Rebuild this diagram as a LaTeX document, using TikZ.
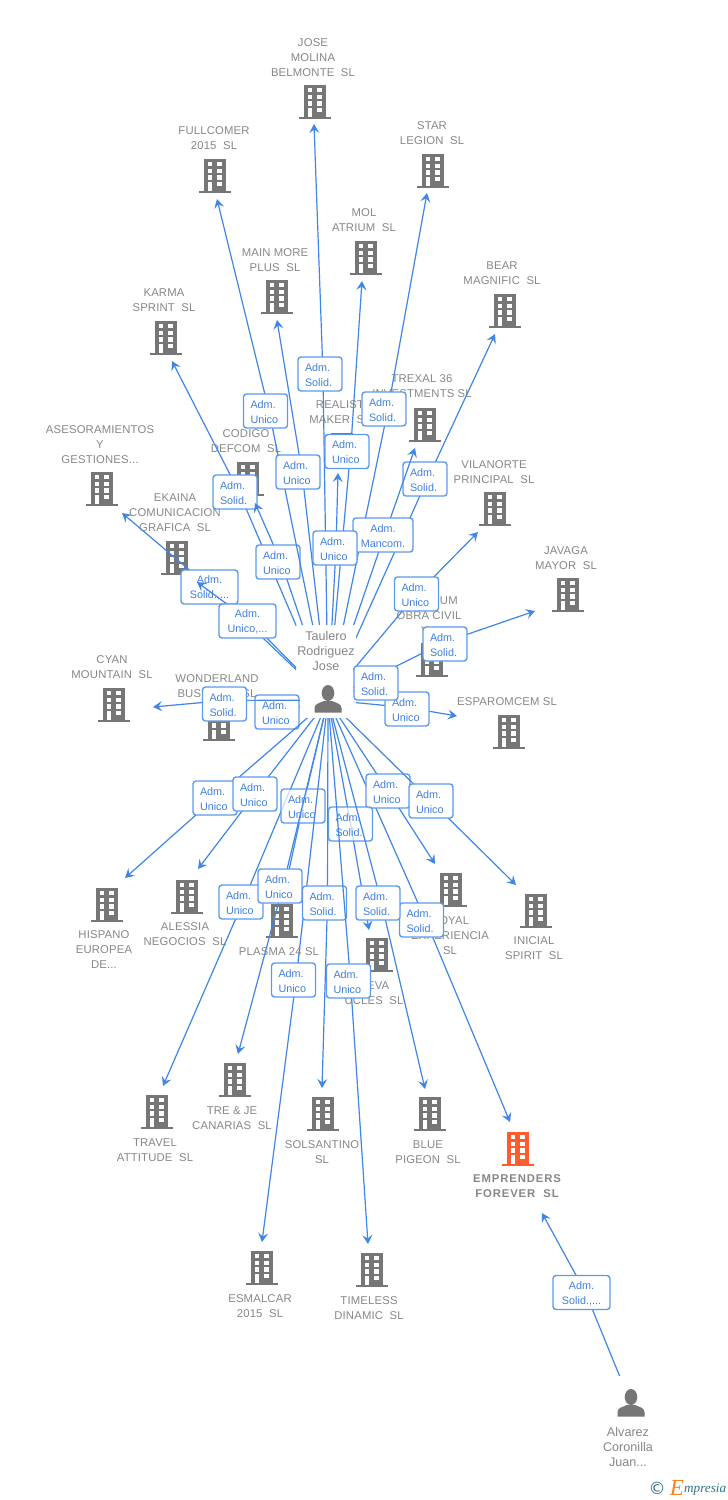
\documentclass[tikz,border=0pt]{standalone}
\usepackage{fontspec}
\setmainfont{Liberation Sans}
\newfontfamily\logofont{Liberation Serif}
\newfontfamily\symfont{DejaVu Sans}
\usetikzlibrary{arrows.meta}
\definecolor{txtgray}{HTML}{878787}
\definecolor{icongray}{HTML}{767676}
\definecolor{hot}{HTML}{FF5C2E}
\definecolor{linkblue}{HTML}{3F86E6}
\definecolor{boxblue}{HTML}{5C9BEA}
\definecolor{labblue}{HTML}{3F80DC}
\definecolor{teal2}{HTML}{2F7488}
\definecolor{orange2}{HTML}{F58220}
\tikzset{
  anchorbox/.style={inner sep=0pt,outer sep=0pt,minimum size=0pt},
  blabel/.style={text=txtgray,align=center,inner sep=0pt,yshift=-1pt,font=\fontsize{11.3}{15}\selectfont\addfontfeature{LetterSpace=1.5}},
  plabel/.style={text=txtgray,align=center,inner sep=0pt,font=\fontsize{12.6}{15}\selectfont},
  conn/.style={draw=linkblue,line width=1.2pt,-{Stealth[length=9pt,width=10pt,inset=3.5pt]}},
  lab/.style={draw=boxblue,line width=1.4pt,rounded corners=3pt,fill=white,minimum width=44pt,minimum height=34pt,inner sep=0pt,
    text=labblue,align=left,text width=30pt,font=\fontsize{10.8}{15}\selectfont},
  wide/.style={lab,minimum width=57pt,text width=46pt,align=center},
  mancom/.style={lab,minimum width=60pt,text width=50pt,align=center},
  glassy/.style={lab,fill opacity=.72,text opacity=1,draw opacity=1},
}
\newcommand\firstline{\rule{0pt}{9.6pt}}
% building: id, centre, label centre, text, colour
\newcommand\building[5]{%
  \node[anchorbox] (#1) at #2 {};
  \begin{scope}[shift={#2}]
    \fill[#5] (-11,-17) rectangle (11,15);
    \fill[#5] (-16,15) rectangle (16,17);
    \foreach \cx in {-7.5,1.9}\foreach \cy in {-14.1,-7.4,-.7}\fill[white] (\cx,\cy) rectangle ++(4.6,4.2);
    \fill[white] (1.9,6) rectangle ++(4.6,4.2);
    \fill[white] (-7.5,6) rectangle (-2.9,15);
  \end{scope}
  \node[blabel] (#1-t) at #3 {#4};
}
% person icon: id, centre
\newcommand\person[2]{%
  \node[anchorbox] (#1) at #2 {};
  \begin{scope}[shift={#2}]
    \fill[icongray] (0,-7) ellipse (6.3 and 8);
    \fill[icongray] (-13.5,12.5) -- (-13.5,8) .. controls (-13.5,3.5) and (-8,3) .. (-4,1) -- (4,1)
      .. controls (8,3) and (13.5,3.5) .. (13.5,8) -- (13.5,12.5) -- cycle;
  \end{scope}
}
% link: id, source, label pos, waypoint, tip, label style, text
\newcommand\link[7]{%
  \coordinate (w-#1) at #4;
  \coordinate (t-#1) at #5;
  \draw[conn] (#2) -- (w-#1) -- (t-#1);
  \node[#6] (l-#1) at #3 {\firstline#7};
}
\newcommand\AU{Adm.\\Unico}
\newcommand\AS{Adm.\\Solid.}
\newcommand\strongname[1]{\bfseries\addfontfeature{LetterSpace=8}#1}
\begin{document}
\begin{tikzpicture}[x=1pt,y=-1pt]
\useasboundingbox (0,0) rectangle (728,1500);
\fill[white] (0,0) rectangle (728,1500);

\building{jose}{(315,102)}{(313,57)}{JOSE\\MOLINA\\BELMONTE~~SL}{icongray}
\building{fullcomer}{(215,176)}{(214,137.5)}{FULLCOMER\\2015~~SL}{icongray}
\building{star}{(433,171)}{(432,132.5)}{STAR\\LEGION~~SL}{icongray}
\building{mol}{(366,258)}{(364,219.5)}{MOL\\ATRIUM~~SL}{icongray}
\building{mainmore}{(277,297)}{(275,259.5)}{MAIN MORE\\PLUS~~SL}{icongray}
\building{bear}{(505,311)}{(502,272.5)}{BEAR\\MAGNIFIC~~SL}{icongray}
\building{karma}{(166,338)}{(164,299.5)}{KARMA\\SPRINT~~SL}{icongray}
\building{trexal}{(425,425)}{(422,385.5)}{TREXAL 36\\INVESTMENTS SL}{icongray}
\building{realist}{(342,450)}{(340,411.5)}{REALIST\\MAKER~~SL}{icongray}
\building{codigo}{(248,479)}{(246,440.5)}{CODIGO\\DEFCOM~~SL}{icongray}
\building{asesor}{(102,489)}{(100,444)}{ASESORAMIENTOS\\Y\\GESTIONES...}{icongray}
\building{ekaina}{(177,558)}{(175,512)}{EKAINA\\COMUNICACION\\GRAFICA~~SL}{icongray}
\building{vilanorte}{(495,509)}{(494,471.5)}{VILANORTE\\PRINCIPAL~~SL}{icongray}
\building{javaga}{(568,595)}{(566,557.5)}{JAVAGA\\MAYOR~~SL}{icongray}
\building{platinum}{(432,660)}{(429,615)}{PLATINUM\\OBRA CIVIL\\Y...}{icongray}
\building{cyan}{(114,705)}{(112,666.5)}{CYAN\\MOUNTAIN~~SL}{icongray}
\building{wonder}{(219,724)}{(217,685.5)}{WONDERLAND\\BUSINESS~~SL}{icongray}
\building{esparom}{(509,732)}{(507,701)}{ESPAROMCEM SL}{icongray}
\building{hispano}{(107,905)}{(104,949)}{HISPANO\\EUROPEA\\DE...}{icongray}
\building{alessia}{(187,897)}{(185,933.5)}{ALESSIA\\NEGOCIOS~~SL}{icongray}
\building{plasma}{(282,921)}{(279,951)}{PLASMA 24 SL}{icongray}
\building{royal}{(451,890)}{(450,935)}{ROYAL\\EXPERIENCIA\\SL}{icongray}
\building{inicial}{(536,911)}{(534,947.5)}{INICIAL\\SPIRIT~~SL}{icongray}
\building{neva}{(377,955)}{(374,992.5)}{NEVA\\UCLES~~SL}{icongray}
\building{travel}{(157,1112)}{(155,1149.5)}{TRAVEL\\ATTITUDE~~SL}{icongray}
\building{treje}{(235,1080)}{(232,1117.5)}{TRE \& JE\\CANARIAS~~SL}{icongray}
\building{solsantino}{(323,1114)}{(322,1151.5)}{SOLSANTINO\\SL}{icongray}
\building{blue}{(430,1114)}{(428,1151.5)}{BLUE\\PIGEON~~SL}{icongray}
\building{emprenders}{(518,1149)}{(517,1185.5)}{\strongname{EMPRENDERS}\\\strongname{FOREVER~~SL}}{hot}
\building{esmalcar}{(262,1268)}{(260,1305.5)}{ESMALCAR\\2015~~SL}{icongray}
\building{timeless}{(372,1270)}{(369,1307.5)}{TIMELESS\\DINAMIC~~SL}{icongray}

\node[anchorbox] (taulero) at (328,700) {};
\node[anchorbox,minimum width=24pt,minimum height=56pt] (alvarez) at (631,1404) {};

\begin{scope}[even odd rule]
\clip (0,0) rectangle (728,1500)
  (296,625) -- (356,625) -- (356,664) -- (353,664) -- (353,702) -- (356,702) -- (356,718)
  -- (300,718) -- (300,694) -- (296,694) -- cycle;
% upper fan
\link{asesor}{taulero}{(209.5,587)}{(209.5,587)}{(122,513)}{wide}{Adm.\\Solid.,...}
\link{karma}{taulero}{(235,492)}{(239,492)}{(172,361)}{lab}{\AS}
\link{codigo}{taulero}{(278,562)}{(281,562)}{(255,503)}{lab}{\AU}
\link{ekaina}{taulero}{(247.5,621)}{(250,621)}{(197,582)}{wide}{Adm.\\Unico,...}
\link{fullcomer}{taulero}{(265.5,411)}{(269,411)}{(217,199)}{lab}{\AU}
\link{mainmore}{taulero}{(298,472)}{(302,472)}{(277,320)}{lab}{\AU}
\link{jose}{taulero}{(320,374)}{(323,374)}{(314,124)}{lab}{\AS}
\link{mol}{taulero}{(347,451.5)}{(350.5,452)}{(362,281)}{lab}{\AU}
\link{star}{taulero}{(384,409)}{(388,409)}{(427,193)}{lab}{\AS}
\link{bear}{taulero}{(425,479)}{(427.5,479)}{(495,334)}{lab}{\AS}
\link{trexal}{taulero}{(383,535)}{(384.5,535)}{(415,448)}{mancom}{Adm.\\Mancom.}
\link{realist}{taulero}{(335,548)}{(336,548)}{(338,473)}{lab}{\AU}
\link{vilanorte}{taulero}{(416.5,594)}{(415,596)}{(478,532)}{lab}{\AU}
\link{esparom}{taulero}{(407,709)}{(407,707.5)}{(457,716)}{lab}{\AU}
\link{javaga}{taulero}{(445,644)}{(445,642)}{(535,611)}{lab}{\AS}
\link{platinum}{taulero}{(376,683)}{(376,683)}{(390,676)}{lab}{\AS}
\link{wonder}{taulero}{(277,712)}{(277,712)}{(262,715)}{lab}{\AU}
\link{cyan}{taulero}{(224.5,704)}{(224.5,700.5)}{(153,707)}{lab}{\AS}
% lower fan
\link{hispano}{taulero}{(215,798)}{(215,798)}{(125,878)}{lab}{\AU}
\link{alessia}{taulero}{(255,794)}{(255,794)}{(198,869)}{lab}{\AU}
\link{emprenders}{taulero}{(421.5,920)}{(425.5,920)}{(510,1122)}{lab}{\AS}
\link{royal}{taulero}{(388,791)}{(388,791)}{(435,864)}{lab}{\AU}
\link{inicial}{taulero}{(431,801)}{(431,801)}{(516,885)}{lab}{\AU}
\link{travel}{taulero}{(241,902)}{(243,902)}{(163,1086)}{lab}{\AU}
\link{plasma}{taulero}{(303,806)}{(303,806)}{(284,893)}{glassy}{\AU}
\link{treje}{taulero}{(280,886)}{(283,886)}{(238,1054)}{lab}{\AU}
\link{esmalcar}{taulero}{(293.5,980)}{(296,980)}{(262,1242)}{lab}{\AU}
\link{solsantino}{taulero}{(324.5,903)}{(327.5,903)}{(322,1088)}{lab}{\AS}
\link{neva}{taulero}{(350.5,824)}{(350.5,824)}{(369,930)}{glassy}{\AS}
\link{timeless}{taulero}{(348.5,981)}{(350.5,981)}{(368,1244)}{lab}{\AU}
\link{blue}{taulero}{(378,903)}{(381.5,903)}{(425,1089)}{lab}{\AS}
\end{scope}

\link{alvarez}{alvarez}{(581.5,1292.5)}{(585.5,1292.5)}{(542,1213)}{wide}{Adm.\\Solid.,...}

\node[plabel] (taulero-t) at (326,651) {Taulero\\Rodriguez\\Jose};
\person{taulero-i}{(328,700)}
\node[plabel] (alvarez-t) at (628,1447) {Alvarez\\Coronilla\\Juan...};
\person{alvarez-i}{(631,1404)}

\node[inner sep=0pt,text=teal2,font=\symfont\fontsize{17}{17}\selectfont] (copy) at (657,1488) {©};
\node[inner sep=0pt,text=orange2,font=\logofont\itshape\fontsize{23}{23}\selectfont] (logoe) at (677,1488) {E};
\node[inner sep=0pt,text=teal2,font=\logofont\itshape\fontsize{13.2}{14}\selectfont,anchor=west] (logot) at (684,1490) {mpresia};
\end{tikzpicture}
\end{document}
